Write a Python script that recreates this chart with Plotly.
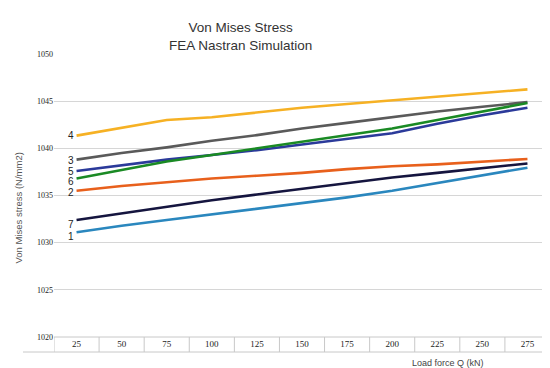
import plotly.graph_objects as go

loads = [25, 50, 75, 100, 125, 150, 175, 200, 225, 250, 275]
s1 = [1031.1, 1031.8, 1032.4, 1033.0, 1033.6, 1034.2, 1034.8, 1035.5, 1036.3, 1037.1, 1037.95]
s2 = [1035.5, 1036.0, 1036.4, 1036.8, 1037.1, 1037.4, 1037.8, 1038.1, 1038.3, 1038.6, 1038.87]
s3 = [1038.8, 1039.5, 1040.1, 1040.8, 1041.4, 1042.1, 1042.7, 1043.3, 1043.9, 1044.4, 1044.9]
s4 = [1041.35, 1042.2, 1043.0, 1043.3, 1043.8, 1044.3, 1044.7, 1045.1, 1045.5, 1045.9, 1046.25]
s5 = [1037.6, 1038.2, 1038.8, 1039.3, 1039.8, 1040.4, 1041.0, 1041.6, 1042.6, 1043.5, 1044.3]
s6 = [1036.8, 1037.7, 1038.6, 1039.3, 1040.0, 1040.7, 1041.4, 1042.1, 1043.0, 1043.9, 1044.8]
s7 = [1032.4, 1033.1, 1033.8, 1034.5, 1035.1, 1035.7, 1036.3, 1036.9, 1037.4, 1037.9, 1038.4]
series_names = ["1", "2", "3", "4", "5", "6", "7"]
series_vals = [s1, s2, s3, s4, s5, s6, s7]
colors = ["#2A87BE", "#E8601C", "#5A5A5A", "#F6B124", "#2B3A9A", "#1A8A24", "#15153F"]
label_shift = [-4, -2, -1, 0, -1, -3, -4]
y_ticks = [1020, 1025, 1030, 1035, 1040, 1045, 1050]

W, H = 550, 368
ml, mr, mt, mb = 46, 8, 46, 39
ph = H - mt - mb
pw = W - ml - mr

fig = go.Figure()
for name, vals, col in zip(series_names, series_vals, colors):
    fig.add_trace(go.Scatter(x=list(range(len(loads))), y=vals, mode="lines",
                             line=dict(color=col, width=2.6), name=name,
                             showlegend=False))

annotations = []
for name, vals, sh in zip(series_names, series_vals, label_shift):
    annotations.append(dict(x=0, y=vals[0], xref="x", yref="y", text=name,
                            showarrow=False, xanchor="right", xshift=-1, yshift=sh,
                            font=dict(size=10, color="#222", family="Liberation Sans")))

annotations.append(dict(x=(10 - ml) / pw, y=0.5 - 13 / ph, xref="paper", yref="paper",
                        text="Von Mises stress (N/mm2)", textangle=-90, showarrow=False,
                        xanchor="center", yanchor="middle",
                        font=dict(size=9.5, color="#555", family="Liberation Sans")))

annotations.append(dict(x=(440 - ml) / pw, y=-(355 - (H - mb)) / ph,
                        xref="paper", yref="paper", text="Load force Q (kN)",
                        showarrow=False, xanchor="center", yanchor="middle",
                        font=dict(size=9, color="#444", family="Liberation Sans")))

annotations.append(dict(x=232 / W, y=1 - 10 / H, xref="paper", yref="container",
                        text="Von Mises Stress<br>FEA Nastran Simulation",
                        showarrow=False, xanchor="center", yanchor="top"))
annotations[-1]["x"] = (232 - ml) / pw
annotations[-1]["yref"] = "paper"
annotations[-1]["y"] = 1 + (mt - 10) / ph
annotations[-1]["font"] = dict(size=13.5, color="#333", family="Liberation Sans")

shapes = []
bottom = -(344 - (H - mb)) / ph
for k in range(len(loads) + 1):
    shapes.append(dict(type="line", xref="x", yref="paper", x0=k - 0.5, x1=k - 0.5,
                       y0=0, y1=bottom, line=dict(color="#c8c8c8", width=1)))
shapes.append(dict(type="line", xref="x", yref="paper", x0=-0.5, x1=len(loads) - 0.5,
                   y0=0, y1=0, line=dict(color="#c8c8c8", width=1)))
shapes.append(dict(type="line", xref="paper", yref="paper", x0=(15 - ml) / pw,
                   x1=1, y0=bottom, y1=bottom, line=dict(color="#c8c8c8", width=1)))

fig.update_layout(
    width=W, height=H, margin=dict(l=ml, r=mr, t=mt, b=mb),
    paper_bgcolor="white", plot_bgcolor="white",
    xaxis=dict(range=[-0.5, len(loads) - 0.5], tickmode="array",
               tickvals=list(range(len(loads))), ticktext=[str(v) for v in loads],
               showgrid=False, zeroline=False, showline=False, ticks="",
               tickfont=dict(size=9, color="#222", family="Liberation Sans Narrow")),
    yaxis=dict(range=[1020, 1050], tickmode="array", tickvals=y_ticks,
               ticktext=[str(v) for v in y_ticks], showgrid=True, gridcolor="#d6d6d6",
               gridwidth=1, zeroline=False, showline=False, ticks="",
               tickfont=dict(size=8, color="#222", family="Liberation Sans Narrow")),
    annotations=annotations, shapes=shapes,
)

fig.write_html("out.html")
